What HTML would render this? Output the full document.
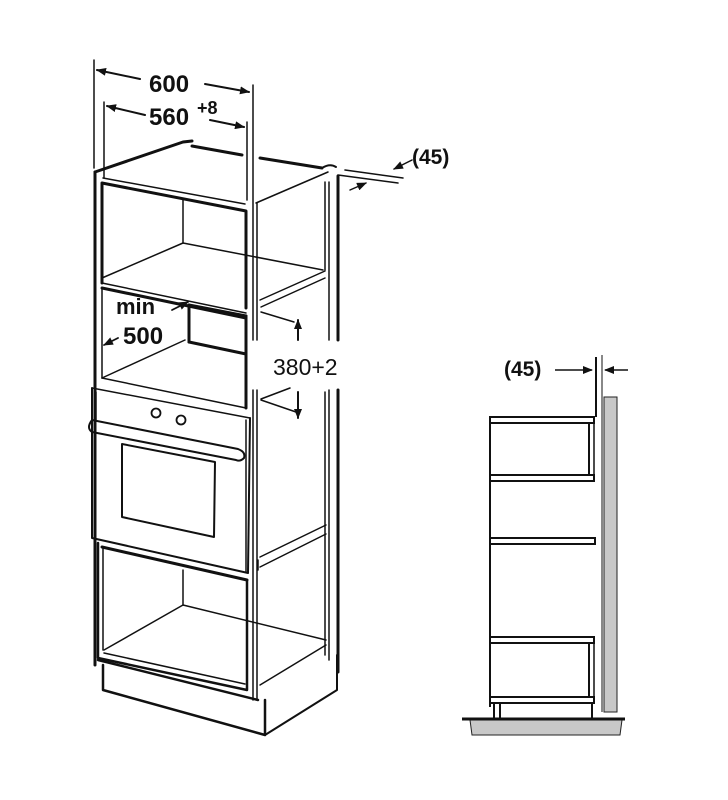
<!DOCTYPE html>
<html><head><style>
html,body{margin:0;padding:0;background:#fff;width:728px;height:800px;overflow:hidden}
svg{display:block}
text{font-family:"Liberation Sans",sans-serif;font-weight:bold;fill:#111}
</style></head><body>
<svg width="728" height="800" viewBox="0 0 728 800">
<defs>
<marker id="ar" markerWidth="10" markerHeight="8" refX="9" refY="4" orient="auto" markerUnits="userSpaceOnUse">
<path d="M0,0 L10,4 L0,8 Z" fill="#111"/></marker>
</defs>
<g stroke="#111" fill="none" stroke-linecap="round" stroke-linejoin="round">
<line x1="94" y1="60" x2="94" y2="168" stroke-width="1.5"/>
<line x1="253" y1="85" x2="253" y2="340" stroke-width="1.5"/>
<line x1="104" y1="102" x2="104" y2="178" stroke-width="1.5"/>
<line x1="247" y1="122" x2="247" y2="200" stroke-width="1.5"/>
<line x1="140" y1="79" x2="97" y2="70" stroke-width="2" marker-end="url(#ar)"/>
<line x1="205" y1="84" x2="249" y2="92" stroke-width="2" marker-end="url(#ar)"/>
<line x1="145" y1="115" x2="107" y2="106" stroke-width="2" marker-end="url(#ar)"/>
<line x1="210" y1="120" x2="244" y2="127" stroke-width="2" marker-end="url(#ar)"/>

<polyline points="95,172 95,665" stroke-width="3"/>
<polyline points="95,172 183,142 192,141" stroke-width="3"/>
<line x1="192" y1="146" x2="242" y2="155" stroke-width="3"/>
<line x1="260" y1="158" x2="322" y2="168" stroke-width="3"/>
<path d="M322,168 Q330,163 336,167" stroke-width="2"/>
<line x1="103" y1="178" x2="245" y2="204" stroke-width="1.5"/>
<line x1="256" y1="203" x2="328" y2="172" stroke-width="1.5"/>
<line x1="257" y1="203" x2="257" y2="340" stroke-width="1.5"/>
<line x1="325" y1="182" x2="325" y2="270" stroke-width="1.5"/>
<line x1="329" y1="182" x2="329" y2="340" stroke-width="1.5"/>
<line x1="338" y1="176" x2="338" y2="340" stroke-width="3"/>
<line x1="329" y1="390" x2="329" y2="660" stroke-width="1.5"/>
<line x1="338" y1="390" x2="338" y2="672" stroke-width="3"/>
<line x1="253" y1="390" x2="253" y2="700" stroke-width="1.5"/>
<line x1="257" y1="390" x2="257" y2="700" stroke-width="1.5"/>
<line x1="325" y1="392" x2="325" y2="655" stroke-width="1.5"/>

<polyline points="102,283 102,183 246,211 246,308" stroke-width="3"/>
<line x1="183" y1="200" x2="183" y2="243" stroke-width="1.5"/>
<line x1="183" y1="243" x2="102" y2="278" stroke-width="1.5"/>
<line x1="183" y1="243" x2="323" y2="270" stroke-width="1.5"/>
<line x1="102" y1="283" x2="246" y2="313" stroke-width="1.5"/>
<line x1="102" y1="288" x2="246" y2="318" stroke-width="3"/>
<line x1="260" y1="300" x2="325" y2="271" stroke-width="1.5"/>
<line x1="261" y1="307" x2="325" y2="278" stroke-width="1.5"/>
<line x1="261" y1="312" x2="294" y2="322" stroke-width="1.5"/>
<line x1="102" y1="288" x2="102" y2="378" stroke-width="1.5"/>
<line x1="189" y1="305" x2="246" y2="316" stroke-width="3"/>
<line x1="189" y1="305" x2="189" y2="342" stroke-width="3"/>
<line x1="189" y1="342" x2="246" y2="354" stroke-width="3"/>
<line x1="246" y1="316" x2="246" y2="408" stroke-width="3"/>
<line x1="185" y1="340" x2="102" y2="378" stroke-width="1.5"/>
<line x1="102" y1="378" x2="246" y2="408" stroke-width="1.5"/>
<line x1="261" y1="399" x2="290" y2="388" stroke-width="1.5"/>
<line x1="261" y1="400" x2="296" y2="412" stroke-width="1.5"/>
<line x1="298" y1="340" x2="298" y2="320" stroke-width="2" marker-end="url(#ar)"/>
<line x1="298" y1="392" x2="298" y2="418" stroke-width="2" marker-end="url(#ar)"/>
<line x1="172" y1="310" x2="188" y2="302" stroke-width="1.8" marker-end="url(#ar)"/>
<line x1="118" y1="338" x2="104" y2="345" stroke-width="1.8" marker-end="url(#ar)"/>

<polyline points="92,388 250,418" stroke-width="1.5"/>
<polyline points="92,388 92,538 248,573 250,418" stroke-width="2"/>
<line x1="96" y1="392" x2="96" y2="420" stroke-width="1.5"/>
<line x1="246" y1="420" x2="246" y2="572" stroke-width="1.5"/>
<circle cx="156" cy="413" r="4.5" stroke-width="1.8"/>
<circle cx="181" cy="420" r="4.5" stroke-width="1.8"/>
<path d="M92,420 L238,449 Q246,452 244,458 Q240,462 236,460 L92,432 Q86,428 92,420 Z" stroke-width="2"/>
<polygon points="122,444 215,462 214,537 122,517" stroke-width="2"/>

<polyline points="98,543 98,658 247,690 247,580" stroke-width="2.5"/>
<line x1="102" y1="547" x2="247" y2="580" stroke-width="3"/>
<line x1="103" y1="548" x2="103" y2="650" stroke-width="1.5"/>
<line x1="183" y1="570" x2="183" y2="605" stroke-width="1.5"/>
<line x1="183" y1="605" x2="104" y2="650" stroke-width="1.5"/>
<line x1="183" y1="605" x2="326" y2="640" stroke-width="1.5"/>
<line x1="104" y1="653" x2="245" y2="684" stroke-width="1.5"/>
<line x1="260" y1="557" x2="326" y2="525" stroke-width="1.5"/>
<line x1="260" y1="567" x2="326" y2="534" stroke-width="1.5"/>
<line x1="258" y1="560" x2="258" y2="570" stroke-width="1.5"/>
<line x1="260" y1="685" x2="326" y2="645" stroke-width="1.5"/>
<polyline points="103,665 103,690 265,735 265,700" stroke-width="2.5"/>
<polyline points="265,735 337,690 337,655" stroke-width="2"/>
<line x1="98" y1="660" x2="258" y2="700" stroke-width="2.5"/>

<line x1="338" y1="175" x2="398" y2="183" stroke-width="1.5"/>
<line x1="345" y1="170" x2="403" y2="178" stroke-width="1.5"/>
<line x1="350" y1="190" x2="366" y2="183" stroke-width="1.5" marker-end="url(#ar)"/>
<line x1="412" y1="160" x2="394" y2="169" stroke-width="1.5" marker-end="url(#ar)"/>
</g>
<text x="149" y="92" font-size="24">600</text>
<text x="149" y="125" font-size="24">560</text>
<text x="197" y="114" font-size="18">+8</text>
<text x="412" y="164" font-size="21">(45)</text>
<text x="116" y="314" font-size="22">min</text>
<text x="123" y="344" font-size="24">500</text>
<text x="273" y="375" font-size="23" style="font-weight:normal">380+2</text>

<rect x="604" y="397" width="13" height="315" fill="#c8c8c8" stroke="#222" stroke-width="1"/>
<polygon points="470,720 622,720 620,735 472,735" fill="#c8c8c8" stroke="#222" stroke-width="1"/>
<g stroke="#111" fill="none">
<line x1="462" y1="719" x2="625" y2="719" stroke-width="3"/>
<line x1="596" y1="357" x2="596" y2="417" stroke-width="2"/>
<line x1="602" y1="355" x2="602" y2="712" stroke-width="1"/>
<line x1="490" y1="417" x2="490" y2="707" stroke-width="2"/>
<rect x="490" y="417" width="104" height="6" stroke-width="2"/>
<rect x="490" y="475" width="104" height="6" stroke-width="2"/>
<line x1="589" y1="423" x2="589" y2="475" stroke-width="2"/>
<line x1="594" y1="423" x2="594" y2="475" stroke-width="1.5"/>
<rect x="490" y="538" width="105" height="6" stroke-width="2"/>
<rect x="490" y="637" width="104" height="6" stroke-width="2"/>
<rect x="490" y="697" width="104" height="6" stroke-width="2"/>
<line x1="589" y1="643" x2="589" y2="697" stroke-width="2"/>
<line x1="594" y1="643" x2="594" y2="697" stroke-width="1.5"/>
<line x1="494" y1="703" x2="494" y2="719" stroke-width="2"/>
<line x1="500" y1="703" x2="500" y2="719" stroke-width="2"/>
<line x1="592" y1="703" x2="592" y2="719" stroke-width="2"/>
<line x1="555" y1="370" x2="592" y2="370" stroke-width="1.5" marker-end="url(#ar)"/>
<line x1="628" y1="370" x2="605" y2="370" stroke-width="1.5" marker-end="url(#ar)"/>
</g>
<text x="504" y="376" font-size="21">(45)</text>
</svg>
</body></html>
